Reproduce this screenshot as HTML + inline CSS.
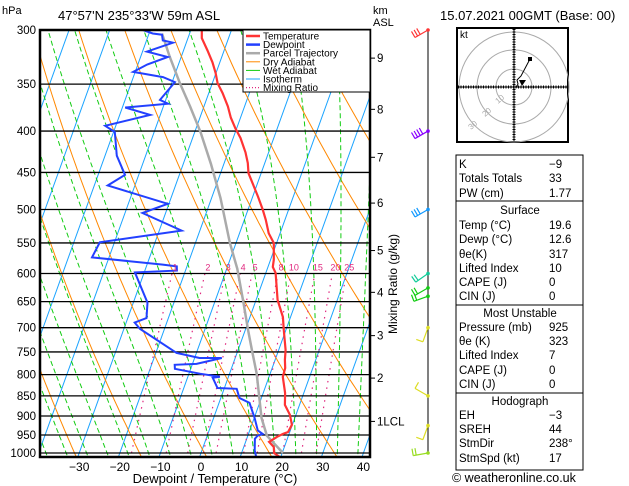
<!DOCTYPE html>
<html><head><meta charset="utf-8"><style>
html,body{margin:0;padding:0;background:#fff;width:629px;height:486px;overflow:hidden}
svg{display:block;font-family:"Liberation Sans",sans-serif}
</style></head><body>
<svg id="chart" width="629" height="486" viewBox="0 0 629 486">
<defs><clipPath id="pc"><rect x="40" y="30" width="330" height="427"/></clipPath></defs>
<g id="bg" clip-path="url(#pc)"></g>
<g id="iso"></g>
<g id="series" clip-path="url(#pc)"></g>
<rect x="40" y="30" width="330" height="427" fill="none" stroke="#000" stroke-width="2.5"/>
<text x="2" y="14" font-size="11">hPa</text>
<text x="58" y="20" font-size="13">47°57'N  235°33'W  59m  ASL</text>
<text x="373" y="14" font-size="11">km</text>
<text x="373" y="26" font-size="11">ASL</text>
<text x="440" y="20" font-size="13">15.07.2021  00GMT  (Base: 00)</text>
<g id="legend">
<rect x="243" y="30" width="127" height="62" fill="#fff" stroke="#000"/>
</g>
<g id="ylab"></g>
<g id="xlab"></g>
<text x="215" y="483" font-size="13" text-anchor="middle">Dewpoint / Temperature (°C)</text>
<g id="km"></g>
<text transform="translate(397,334) rotate(-90)" font-size="12">Mixing Ratio (g/kg)</text>
<g id="wind"></g>
<g id="hodo">
<rect x="457" y="28" width="111" height="114" fill="#fff" stroke="#000" stroke-width="2"/>
<circle cx="514" cy="87" r="18" fill="none" stroke="#aaa"/>
<circle cx="514" cy="87" r="37" fill="none" stroke="#aaa"/>
<circle cx="514" cy="87" r="55" fill="none" stroke="#aaa"/>
<line x1="458" y1="87" x2="567" y2="87" stroke="#000" stroke-dasharray="1,1.5" stroke-width="3"/>
<line x1="514" y1="29" x2="514" y2="141" stroke="#000" stroke-dasharray="1,1.5" stroke-width="3"/>
<line x1="458" y1="87" x2="567" y2="87" stroke="#000"/>
<line x1="514" y1="29" x2="514" y2="141" stroke="#000"/>
<polyline points="516,88 518,84 517,80 521,76 530,59" fill="none" stroke="#000"/>
<rect x="528" y="57" width="4" height="4" fill="#000"/>
<polygon points="519,80 526,80 522,86" fill="#000"/>
<text x="460" y="38" font-size="10">kt</text>
<text x="498" y="104" font-size="8" fill="#aaa" transform="rotate(-40 498 104)">10</text>
<text x="485" y="117" font-size="8" fill="#aaa" transform="rotate(-40 485 117)">20</text>
<text x="471" y="130" font-size="8" fill="#aaa" transform="rotate(-40 471 130)">30</text>
</g>
<g id="table" font-size="11.5">
<rect x="456" y="155" width="127" height="315" fill="none" stroke="#000"/>
<line x1="456" y1="201" x2="583" y2="201" stroke="#000"/>
<line x1="456" y1="305" x2="583" y2="305" stroke="#000"/>
<line x1="456" y1="393" x2="583" y2="393" stroke="#000"/>
</g>
<text x="452" y="482" font-size="12.5">© weatheronline.co.uk</text>
</svg>
<script>
const NS='http://www.w3.org/2000/svg';
const pressureLevels=[300,350,400,450,500,550,600,650,700,750,800,850,900,950,1000];
const tempTicks=[-30,-20,-10,0,10,20,30,40];
const tempP=[300,307,318,329,339,349,359,373,385,397,408,425,438,451,482,500,515,535,550,577,589,599,647,679,705,746,767,785,805,843,872,897,923,942,947,955,969,983,1000,1012];
const tempT=[-37.3,-36.6,-34.1,-31.8,-30.1,-28.7,-26.6,-24.1,-22.4,-20.3,-18.2,-15.7,-14.2,-13.1,-8.7,-6.4,-4.7,-2.8,-0.7,0.8,1.2,2.4,5.3,8.1,9.5,11.7,12.4,13.2,13.4,15.4,16.4,18.5,19.9,19.6,18.5,17.3,15.8,17.4,18.0,19.8];
const dewP=[300,303,304,309,311,319,324,331,338,343,348,366,370,374,382,394,401,429,453,467,492,505,531,549,573,585,588,595,598,652,681,690,702,752,763,763,776,778,787,798,805,807,831,833,855,867,905,938,947,952,960,993,1016];
const dewT=[-51.8,-49.1,-46.7,-46.0,-43.3,-48.9,-43.3,-47.7,-50.5,-42.7,-39.3,-41.4,-39.1,-49.3,-42.5,-52.6,-49.7,-47.1,-43.4,-46.7,-30.3,-35.7,-24.5,-43.6,-44.2,-26.1,-22.5,-22.1,-32.3,-26.5,-25.4,-27.9,-26.1,-14.9,-8.8,-3.3,-9.0,-14.3,-13.9,-7.3,-2.1,-3.8,-1.7,3.1,4.6,7.5,10.1,12.0,13.5,12.4,12.0,13.0,14.2];
const parcelP=[1000,952,905,798,746,705,650,592,550,484,439,401,373,349,324,303];
const parcelT=[20.2,14.7,11.8,6.7,3.4,0.7,-3.0,-7.4,-11.5,-17.8,-23.2,-28.6,-33.4,-38.0,-42.8,-46.8];
const mixRatios=[1,2,3,4,5,8,10,15,20,25];
const kmLevels=['9','8','7','6','5','4','3','2','1LCL'];
const kmPressure=[325,376,431,491,562,633,716,808,914];
const windP=[300,400,500,600,625,640,700,850,925,1000];
const windDir=[240,240,240,235,240,250,200,300,200,260];
const windSpd=[30,35,30,20,15,15,10,10,10,15];
const windCol=['#f33','#80f','#19f','#1c9','#1c1','#1c1','#dd2','#dd2','#dd2','#9d2'];
const tableLabels=['K','Totals Totals','PW (cm)','Surface','Temp (°C)','Dewp (°C)','θe(K)','Lifted Index','CAPE (J)','CIN (J)','Most Unstable','Pressure (mb)','θe (K)','Lifted Index','CAPE (J)','CIN (J)','Hodograph','EH','SREH','StmDir','StmSpd (kt)'];
const tableValues=['-9','33','1.77','','19.6','12.6','317','10','0','0','','925','323','7','0','0','','-3','44','238°','17'];

function Y(p){return 30+Math.log(p/300)/Math.log(1000/300)*423;}
function X(T,p){return 201+4.06*T+0.36*(453-Y(p));}
function mk(tag,attrs,parent){const e=document.createElementNS(NS,tag);for(const k in attrs)e.setAttribute(k,attrs[k]);parent.appendChild(e);return e;}
function pts(arrT,arrP){return arrT.map((t,i)=>X(t,arrP[i]).toFixed(1)+','+Y(arrP[i]).toFixed(1)).join(' ');}
const bg=document.getElementById('bg');
const plist=[];for(let p=250;p<=1050;p+=10)plist.push(p);
for(let T=-120;T<=40;T+=10){const l=mk('line',{x1:X(T,1050),y1:Y(1050),x2:X(T,250),y2:Y(250),stroke:'#1aa3ff','stroke-width':1},bg);

}
for(let th=226;th<=500;th+=16){const tt=plist.map(p=>th*Math.pow(p/1000,0.286)-273.15);const l=mk('polyline',{points:pts(tt,plist),fill:'none',stroke:'#f80','stroke-width':1},bg);

}
function es(T){return 6.112*Math.exp(17.67*T/(T+243.5));}
for(let T0=-35;T0<=45;T0+=5){let T=T0+273.15;const tt=[],pp=[];for(let p=1050;p>=250;p-=5){tt.push(T-273.15);pp.push(p);const rs=0.622*es(T-273.15)/(p-es(T-273.15));const dTdp=(287*T+2.5e6*rs)/(p*(1004+2.5e6*2.5e6*rs*0.622/(287*T*T)));T-=dTdp*5;}
const l=mk('polyline',{points:pts(tt,pp),fill:'none',stroke:'#1c1','stroke-width':1,'stroke-dasharray':'5,3'},bg);

}
mixRatios.forEach(w=>{const pp=[],tt=[];for(let p=1000;p>=600;p-=10){const e=w*p/(622+w);const a=Math.log(e/6.112);pp.push(p);tt.push(243.5*a/(17.67-a));}
const l=mk('polyline',{points:pts(tt,pp),fill:'none',stroke:'#e0287f','stroke-width':1.2,'stroke-dasharray':'1.5,5'},bg);


const t=mk('text',{x:X(tt[tt.length-1],600)+3,y:Y(600)-3,'font-size':9,fill:'#e0287f','text-anchor':'middle'},document.getElementById('chart'));t.textContent=w;

});
const iso=document.getElementById('iso'),yl=document.getElementById('ylab');
pressureLevels.forEach(p=>{const l=mk('line',{x1:40,x2:370,y1:Y(p),y2:Y(p),stroke:'#000','stroke-width':1.3},iso);


const t=mk('text',{x:36,y:Y(p)+4,'font-size':11.5,'text-anchor':'end'},yl);t.textContent=p;

});
const xl=document.getElementById('xlab');
tempTicks.forEach(T=>{const t=mk('text',{x:X(T,1000),y:471,'font-size':12,'text-anchor':'middle'},xl);t.textContent=T===0?'0':(T<0?'−'+(-T):T);

});
const sr=document.getElementById('series');
const pl=mk('polyline',{points:pts(parcelT,parcelP),fill:'none',stroke:'#aaa','stroke-width':2.5},sr);


const dl=mk('polyline',{points:pts(dewT,dewP),fill:'none',stroke:'#2240ff','stroke-width':2},sr);


const tl=mk('polyline',{points:pts(tempT,tempP),fill:'none',stroke:'#f33','stroke-width':2.2},sr);


const lg=document.getElementById('legend');
const li=[['Temperature','#f33',2.5,''],['Dewpoint','#2240ff',2.5,''],['Parcel Trajectory','#aaa',2.5,''],['Dry Adiabat','#f80',1,''],['Wet Adiabat','#1c1',1,''],['Isotherm','#1aa3ff',1,''],['Mixing Ratio','#e0287f',1.2,'1,2']];
li.forEach((e,i)=>{const y=36+i*8.6;const l=mk('line',{x1:246,x2:260,y1:y,y2:y,stroke:e[1],'stroke-width':e[2],'stroke-dasharray':e[3]},lg);


const t=mk('text',{x:263,y:y+3.5,'font-size':10},lg);t.textContent=e[0];

});
const km=document.getElementById('km');
kmLevels.forEach((k,i)=>{const y=Y(kmPressure[i]);const l=mk('line',{x1:370,x2:375,y1:y,y2:y,stroke:'#000'},km);


const t=mk('text',{x:377,y:y+4,'font-size':11.5},km);t.textContent=k;

});
const wd=document.getElementById('wind');
const st=mk('line',{x1:428,x2:428,y1:Y(300),y2:Y(1000),stroke:'#000'},wd);


windP.forEach((p,i)=>{const y=Y(p);const a=windDir[i]*Math.PI/180;const L=15;
const ux=Math.sin(a),uy=-Math.cos(a);
const g=mk('g',{stroke:windCol[i],'stroke-width':1.2,fill:'none'},wd);


const bx=428+ux*L, by=y+uy*L;
mk('line',{x1:428,y1:y,x2:bx,y2:by},g);
const n=Math.round(windSpd[i]/10);
for(let k=0;k<n;k++){const fx=428+ux*(L-k*3),fy=y+uy*(L-k*3);mk('line',{x1:fx,y1:fy,x2:fx-7*uy,y2:fy+7*ux},g);}
mk('circle',{cx:428,cy:y,r:1.8,fill:windCol[i],stroke:'none'},g);});
const tb=document.getElementById('table');
const rowY=[168,182,197,214,229,243,258,272,286,300,317,331,345,359,374,388,405,419,433,447,462];
tableLabels.forEach((lab,i)=>{const hdr=tableValues[i]==='';const t=mk('text',{x:hdr?520:459,y:rowY[i],'text-anchor':hdr?'middle':'start'},tb);t.textContent=lab;


if(!hdr){const v=mk('text',{x:549,y:rowY[i]},tb);v.textContent=tableValues[i].replace('-','−');

}});
</script>
</body></html>
